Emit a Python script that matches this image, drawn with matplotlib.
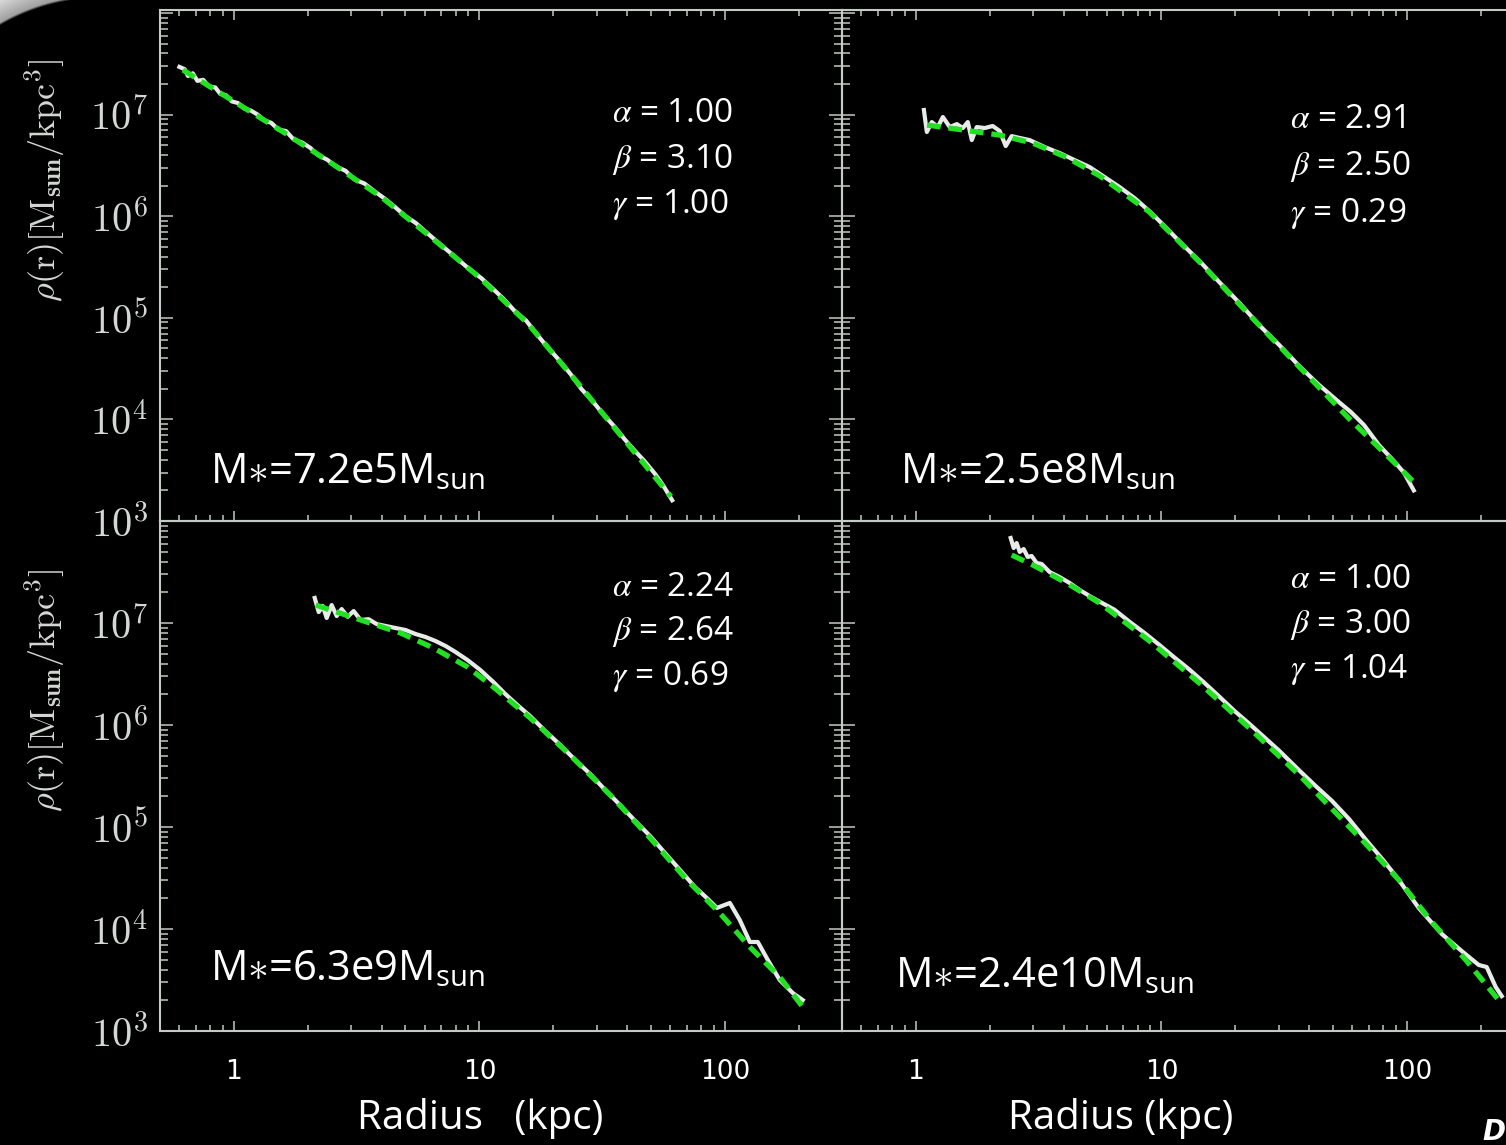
import numpy as np
import matplotlib
matplotlib.use("Agg")
import matplotlib.pyplot as plt
from matplotlib.ticker import LogLocator, FuncFormatter, NullFormatter

W, H = 1506, 1145
plt.rcParams['mathtext.fontset'] = 'cm'
plt.rcParams['mathtext.rm'] = 'Open Sans'
plt.rcParams['mathtext.it'] = 'Open Sans:italic'
plt.rcParams['mathtext.bf'] = 'Open Sans:bold'

# ---------------- data (radius in kpc, density in Msun/kpc^3) ----------------
# top-left : M*=7.2e5
tl_r_sim = [0.60, 0.63, 0.65, 0.68, 0.71, 0.75, 0.79, 0.84, 0.88, 0.93, 0.98, 1.04, 1.10, 1.17, 1.25,
            1.33, 1.42, 1.52, 1.63, 1.75, 1.90, 2.05, 2.20, 2.40, 2.60, 2.85, 3.10, 3.40, 3.75, 4.10,
            4.50, 5.00, 5.50, 6.10, 6.80, 7.50, 8.30, 9.20, 10.2, 11.3, 12.5, 14.0, 15.5, 17.2, 19.0,
            21.0, 23.5, 26.0, 29.0, 32.0, 35.5, 39.0, 43.0, 47.0, 52.0, 56.0, 61.0]
tl_rho_sim = [2.95e7, 2.8e7, 2.4e7, 2.55e7, 2.15e7, 2.2e7, 1.9e7, 1.85e7, 1.6e7, 1.55e7, 1.35e7, 1.3e7,
              1.15e7, 1.1e7, 1.0e7, 8.8e6, 8.3e6, 7.1e6, 6.9e6, 5.7e6, 5.3e6, 4.7e6, 4.0e6, 3.6e6,
              3.1e6, 2.8e6, 2.3e6, 2.1e6, 1.75e6, 1.5e6, 1.25e6, 1.0e6, 8.6e5, 6.9e5, 5.5e5, 4.5e5,
              3.65e5, 2.95e5, 2.45e5, 1.95e5, 1.55e5, 1.15e5, 9.4e4, 6.8e4, 5.1e4, 3.9e4, 2.8e4,
              2.0e4, 1.5e4, 1.12e4, 8.5e3, 6.4e3, 4.9e3, 3.9e3, 2.9e3, 2.25e3, 1.6e3]
tl_r_fit = [0.62, 1.0, 1.58, 2.51, 3.98, 6.31, 10.0, 15.8, 25.1, 39.8, 60.3]
tl_rho_fit = [2.75e7, 1.35e7, 6.8e6, 3.3e6, 1.55e6, 6.3e5, 2.5e5, 8.7e4, 2.3e4, 5.9e3, 1.74e3]

# top-right : M*=2.5e8
tr_r_sim = [1.078, 1.108, 1.161, 1.228, 1.288, 1.374, 1.468, 1.553, 1.627, 1.689, 1.770, 1.908, 2.056,
            2.195, 2.322, 2.456, 2.648, 2.906, 3.345, 3.849, 4.43, 5.10, 5.87, 6.75, 7.77, 8.94, 10.3,
            11.8, 14.3, 17.2, 20.8, 25.0, 30.2, 36.4, 43.9, 52.9, 59.2, 66.9, 76.9, 88.5, 97.2, 106.7]
tr_rho_sim = [1.11e7, 6.75e6, 8.45e6, 7.55e6, 9.47e6, 7.55e6, 8.07e6, 7.38e6, 8.45e6, 5.62e6, 7.55e6,
              7.38e6, 7.73e6, 6.9e6, 4.91e6, 6.15e6, 5.89e6, 5.62e6, 4.8e6, 4.19e6, 3.57e6, 3.05e6,
              2.43e6, 1.94e6, 1.51e6, 1.12e6, 8.0e5, 5.7e5, 3.62e5, 2.25e5, 1.4e5, 8.5e4, 5.4e4,
              3.36e4, 2.18e4, 1.48e4, 1.18e4, 8.8e3, 5.6e3, 3.9e3, 3.0e3, 2.0e3]
tr_r_fit = [1.11, 2.19, 2.99, 4.11, 5.6, 8.94, 14.3, 22.8, 36.4, 58.1, 92.7, 107.0]
tr_rho_fit = [7.9e6, 6.3e6, 5.25e6, 3.8e6, 2.5e6, 1.1e6, 3.55e5, 1.07e5, 3.3e4, 1.02e4, 3.4e3, 2.4e3]

# bottom-left : M*=6.3e9
bl_r_sim = [2.134, 2.215, 2.300, 2.388, 2.502, 2.623, 2.748, 2.906, 3.074, 3.284, 3.538, 3.814, 4.149,
            4.555, 5.003, 5.495, 6.034, 6.625, 7.275, 7.989, 8.94, 10.09, 11.40, 12.76, 14.41, 16.12,
            18.55, 21.35, 24.56, 28.27, 32.53, 37.43, 43.07, 49.56, 57.03, 65.63, 75.5, 84.5, 92.8,
            104.8, 115.1, 126.4, 136.2, 149.6, 167.3, 189.0, 207.6]
bl_rho_sim = [1.76e7, 1.28e7, 1.47e7, 1.12e7, 1.50e7, 1.17e7, 1.37e7, 1.15e7, 1.31e7, 1.07e7, 1.09e7,
              9.77e6, 9.35e6, 8.93e6, 8.54e6, 7.80e6, 7.29e6, 6.66e6, 5.96e6, 5.20e6, 4.34e6, 3.46e6,
              2.64e6, 2.01e6, 1.54e6, 1.22e6, 8.73e5, 6.37e5, 4.54e5, 3.31e5, 2.31e5, 1.64e5, 1.15e5,
              8.17e4, 5.56e4, 3.79e4, 2.58e4, 2.01e4, 1.61e4, 1.80e4, 1.22e4, 7.46e3, 7.46e3, 4.97e3,
              3.16e3, 2.36e3, 2.01e3]
bl_r_fit = [2.154, 3.284, 4.775, 6.50, 8.94, 11.40, 16.12, 23.4, 34.1, 49.6, 70.1, 95.4, 126.4, 167.3, 207.6]
bl_rho_fit = [1.50e7, 1.07e7, 7.98e6, 5.69e6, 3.71e6, 2.36e6, 1.17e6, 5.08e5, 2.06e5, 7.8e4, 3.02e4,
              1.43e4, 6.66e3, 3.38e3, 1.72e3]

# bottom-right : M*=2.4e10
br_r_sim = [2.433, 2.502, 2.573, 2.648, 2.748, 2.853, 2.962, 3.104, 3.253, 3.505, 3.849, 4.227, 4.642,
            5.098, 5.598, 6.44, 7.41, 8.53, 9.81, 11.29, 13.0, 14.95, 17.21, 19.81, 22.79, 26.23, 30.18,
            36.39, 42.67, 49.56, 58.1, 68.1, 80.6, 92.8, 111.9, 138.8, 167.3, 196.2, 211.4, 230.1, 243.4]
br_rho_sim = [6.81e7, 5.43e7, 6.08e7, 4.97e7, 5.31e7, 4.44e7, 4.54e7, 3.87e7, 3.79e7, 3.16e7, 2.82e7,
              2.47e7, 2.11e7, 1.84e7, 1.62e7, 1.35e7, 1.03e7, 8.0e6, 6.1e6, 4.6e6, 3.5e6, 2.6e6, 1.9e6,
              1.38e6, 1.03e6, 7.6e5, 5.6e5, 3.6e5, 2.5e5, 1.8e5, 1.2e5, 7.5e4, 4.65e4, 3.02e4, 1.6e4,
              8.93e3, 6.08e3, 4.44e3, 4.24e3, 2.70e3, 2.20e3]
br_r_fit = [2.456, 2.99, 4.11, 5.60, 8.94, 14.27, 22.8, 36.4, 49.6, 68.1, 92.8, 126.4, 173.8, 236.6]
br_rho_fit = [4.64e7, 3.71e7, 2.47e7, 1.57e7, 6.67e6, 2.58e6, 9.35e5, 3.24e5, 1.50e5, 6.81e4, 3.02e4,
              1.17e4, 4.97e3, 2.01e3]

mass_labels = ['7.2e5', '2.5e8', '6.3e9', '2.4e10']
alphas = ['1.00', '2.91', '2.24', '1.00']
betas = ['3.10', '2.50', '2.64', '3.00']
gammas = ['1.00', '0.29', '0.69', '1.04']
xtick_values = [1, 10, 100]
xtick_labels = ['1', '10', '100']

# ---------------- figure ----------------
fig = plt.figure(figsize=(W / 100, H / 100), dpi=100, facecolor='black')

def fx(x):
    return x / W

def fy(y):
    return 1 - y / H

# grey rounded slide corner at top-left
bg = fig.add_axes([0, 0, 1, 1], zorder=-10)
bg.set_xlim(0, W)
bg.set_ylim(H, 0)
bg.axis('off')
n = 260
yy, xx = np.mgrid[0:n, 0:n] + 0.5
cx, cy, R = 102.0, 200.0, 202.0
d = np.hypot(xx - cx, yy - cy) - R
mask = (xx < cx) & (yy < cy)
inten = 0.60 + 0.25 * np.clip(d / 22.0, 0, 1)
alpha = np.clip(d / 2.5, 0, 1) * mask
img = np.zeros((n, n, 4))
img[..., 0] = inten
img[..., 1] = inten
img[..., 2] = inten
img[..., 3] = alpha
bg.imshow(img, extent=(0, n, n, 0), interpolation='bilinear')

spc = '#c4cac4'
ycol = '#d4d8d4'
white_c = '#e8ece8'
green_c = '#22e022'

xl, xr = 160, 842
pw = 682
yt, ym, yb = 10, 521, 1031

panels = [
    (xl, yt, ym, True, True, tl_r_sim, tl_rho_sim, tl_r_fit, tl_rho_fit),
    (xr, yt, ym, False, True, tr_r_sim, tr_rho_sim, tr_r_fit, tr_rho_fit),
    (xl, ym, yb, True, False, bl_r_sim, bl_rho_sim, bl_r_fit, bl_rho_fit),
    (xr, ym, yb, False, False, br_r_sim, br_rho_sim, br_r_fit, br_rho_fit),
]

def yfmt(v, p):
    e = int(round(np.log10(v)))
    if e < 3 or e > 7:
        return ''
    return r'$10^{%d}$' % e

axes = []
for (x0, y0, y1, left_col, top_row, rs, ps, rf, pf) in panels:
    ax = fig.add_axes([fx(x0), fy(y1), pw / W, (y1 - y0) / H])
    ax.set_facecolor('none')
    ax.set_xscale('log')
    ax.set_yscale('log')
    ax.set_xlim(0.5, 300)
    ax.set_ylim(1e3, 10 ** 8.03 if top_row else 1e8)
    for s in ax.spines.values():
        s.set_color(spc)
        s.set_linewidth(1.5)
    ax.xaxis.set_major_locator(LogLocator(base=10, numticks=20))
    ax.xaxis.set_minor_locator(LogLocator(base=10, subs=np.arange(2, 10), numticks=20))
    ax.yaxis.set_major_locator(LogLocator(base=10, numticks=20))
    ax.yaxis.set_minor_locator(LogLocator(base=10, subs=np.arange(2, 10), numticks=20))
    ax.xaxis.set_major_formatter(FuncFormatter(
        lambda v, p: dict(zip(xtick_values, xtick_labels)).get(int(round(v)), '')))
    ax.xaxis.set_minor_formatter(NullFormatter())
    ax.yaxis.set_major_formatter(FuncFormatter(yfmt))
    ax.yaxis.set_minor_formatter(NullFormatter())
    ax.tick_params(which='both', direction='in', color=spc, width=1.1)
    ax.tick_params(axis='y', which='major', length=9.5, pad=9, labelsize=29, labelcolor=ycol)
    ax.tick_params(axis='y', which='minor', length=5.5)
    ax.tick_params(axis='x', which='major', length=7.5, pad=20, labelsize=19, labelcolor='white')
    ax.tick_params(axis='x', which='minor', length=4)
    ax.tick_params(axis='x', which='both', top=top_row, bottom=True,
                   labelbottom=not top_row, labeltop=False)
    ax.tick_params(axis='y', which='both', left=True, right=left_col,
                   labelleft=left_col, labelright=False)
    for lab in ax.get_xticklabels():
        lab.set_family('DejaVu Sans')

    ax.plot(rs, ps, color=white_c, lw=3.0, solid_joinstyle='round', zorder=3)
    ax.plot(rf, pf, color=green_c, lw=3.8, linestyle=(0, (2.6, 1.5)), zorder=4)

    if left_col:
        ax.set_ylabel(r'$\rho(\mathrm{r})[\mathrm{M}_{\mathbf{sun}}/\mathrm{kpc}^{3}]$',
                      fontsize=26, color=ycol)
        ax.yaxis.set_label_coords(-0.137, 0.667)
    if not top_row:
        ax.set_xlabel('Radius   (kpc)' if left_col else 'Radius (kpc)',
                      fontsize=29, color='white', family='Open Sans', va='center')
        ax.xaxis.set_label_coords(0.469 if left_col else 0.408, -0.1725)
    axes.append(ax)

# mass labels
mass_pos = [(210, 483), (900, 483), (210, 980), (895, 987)]
for (px, py), m in zip(mass_pos, mass_labels):
    fig.text(fx(px), fy(py), r'M$\ast$=' + m + r'M$_{\mathrm{sun}}$', fontsize=30,
             color='white', family='Open Sans', math_fontfamily='custom', va='baseline')

# fit parameter labels
par_pos = [(612, [122, 168, 213]), (1290, [128, 175, 222]),
           (612, [596, 640, 685]), (1290, [588, 633, 678])]
for (px, ys), a, b, g in zip(par_pos, alphas, betas, gammas):
    for yv, sym, val in zip(ys, [r'\alpha', r'\beta', r'\gamma'], [a, b, g]):
        fig.text(fx(px), fy(yv), '$%s$ = %s' % (sym, val), fontsize=24, color='white',
                 family='Open Sans', math_fontfamily='stix', va='baseline')

# glyph at the bottom-right corner of the slide
fig.text(fx(1482), fy(1140), 'D', fontsize=20, color='white', fontweight='bold',
         fontstyle='italic', family='DejaVu Sans', va='baseline')

fig.savefig('out.png', dpi=100, facecolor='black')
